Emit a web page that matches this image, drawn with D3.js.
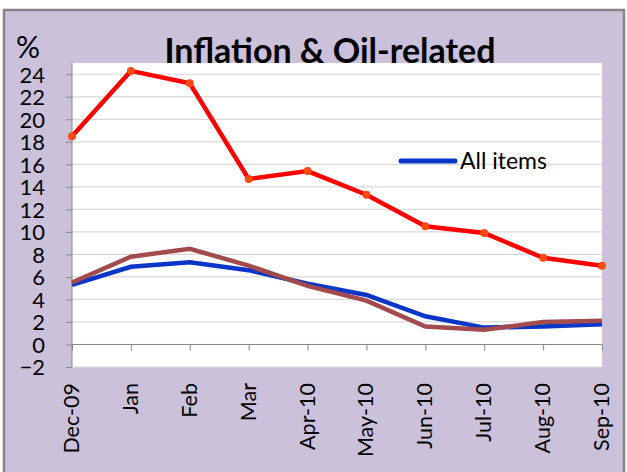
<!DOCTYPE html>
<html>
<head>
<meta charset="utf-8">
<script src="https://d3js.org/d3.v7.min.js"></script>
<style>
  body { margin: 0; background: #fff; }
  svg text { font-family: Lato, "Open Sans", sans-serif; fill: #000; }
</style>
</head>
<body>
<svg id="chart" width="627" height="472"></svg>
<script>
// months on the x axis
var months = ["Dec-09", "Jan", "Feb", "Mar", "Apr-10", "May-10", "Jun-10", "Jul-10", "Aug-10", "Sep-10"];
// oil-related (red, with markers)
var oilRelated = [18.5, 24.3, 23.2, 14.7, 15.4, 13.3, 10.5, 9.9, 7.7, 7.0];
// all items (blue)
var allItems = [5.3, 6.9, 7.3, 6.6, 5.4, 4.4, 2.5, 1.5, 1.6, 1.8];
// third series (brown)
var otherItems = [5.5, 7.8, 8.5, 7.0, 5.2, 3.9, 1.6, 1.3, 2.0, 2.1];
var yTicks = [-2, 0, 2, 4, 6, 8, 10, 12, 14, 16, 18, 20, 22, 24];

var plot = {left: 72, right: 602, top: 63, bottom: 367};

var svg = d3.select("#chart");

// lavender chart area with grey frame
svg.append("rect")
    .attr("x", 4).attr("y", 10)
    .attr("width", 620).attr("height", 480)
    .attr("fill", "#ccc1da")
    .attr("stroke", "#858585")
    .attr("stroke-width", 2.5);

var x = d3.scalePoint().domain(months).range([plot.left, plot.right]);
var y = d3.scaleLinear().domain([-2, 25]).range([plot.bottom, plot.top]);

svg.append("rect")
    .attr("x", plot.left).attr("y", plot.top)
    .attr("width", plot.right - plot.left)
    .attr("height", plot.bottom - plot.top)
    .attr("fill", "#fff");

// gridlines
svg.append("g")
  .selectAll("line")
  .data(yTicks.filter(function(d) { return d != 0; }))
  .enter().append("line")
    .attr("x1", plot.left).attr("x2", plot.right)
    .attr("y1", function(d) { return y(d); })
    .attr("y2", function(d) { return y(d); })
    .attr("stroke", "#d9d9d9")
    .attr("stroke-width", 1.2);

// y axis
var yAxis = svg.append("g")
    .attr("transform", "translate(" + plot.left + ",0)")
    .call(d3.axisLeft(y).tickValues(yTicks).tickSize(6).tickPadding(21).tickSizeOuter(0));
yAxis.select(".domain").attr("stroke", "#868686");
yAxis.selectAll(".tick line").attr("stroke", "#868686");
yAxis.selectAll(".tick text")
    .style("font-size", "22px")
    .attr("dy", "0.36em");
yAxis.select(".domain").attr("d", "M0," + plot.top + "V" + plot.bottom);

// x axis at zero
var xAxis = svg.append("g")
    .attr("transform", "translate(0," + y(0) + ")")
    .call(d3.axisBottom(x).tickSize(6).tickSizeOuter(0).tickFormat(""));
xAxis.select(".domain").attr("stroke", "#868686").attr("d", "M" + plot.left + ",0H" + plot.right);
xAxis.selectAll(".tick line").attr("stroke", "#868686");

// rotated month labels
svg.append("g")
  .selectAll("text")
  .data(months)
  .enter().append("text")
    .attr("transform", function(d) { return "translate(" + (x(d) + 7) + ",383) rotate(-90)"; })
    .attr("text-anchor", "end")
    .style("font-size", "21.5px")
    .text(function(d) { return d; });

var line = d3.line()
    .x(function(d, i) { return x(months[i]); })
    .y(function(d) { return y(d); });

svg.append("path").datum(allItems)
    .attr("d", line).attr("fill", "none")
    .attr("stroke", "#0a36c8").attr("stroke-width", 4.5);

svg.append("path").datum(otherItems)
    .attr("d", line).attr("fill", "none")
    .attr("stroke", "#a24a4c").attr("stroke-width", 4.5);

svg.append("path").datum(oilRelated)
    .attr("d", line).attr("fill", "none")
    .attr("stroke", "#ff0000").attr("stroke-width", 4.5);

svg.append("g")
  .selectAll("circle")
  .data(oilRelated)
  .enter().append("circle")
    .attr("cx", function(d, i) { return x(months[i]); })
    .attr("cy", function(d) { return y(d); })
    .attr("r", 4)
    .attr("fill", "#ff4a12");

// legend
svg.append("line")
    .attr("x1", 401).attr("x2", 455)
    .attr("y1", 161).attr("y2", 161)
    .attr("stroke", "#0a36c8").attr("stroke-width", 5)
    .attr("stroke-linecap", "round");
svg.append("text")
    .attr("x", 460).attr("y", 169)
    .style("font-size", "23px")
    .text("All items");

// title and unit
svg.append("text")
    .attr("x", 330).attr("y", 63)
    .attr("text-anchor", "middle")
    .style("font-size", "34px")
    .style("font-weight", "bold")
    .text("Inflation & Oil-related");
svg.append("text")
    .attr("x", 16).attr("y", 58)
    .style("font-size", "30px")
    .text("%");
</script>
</body>
</html>
